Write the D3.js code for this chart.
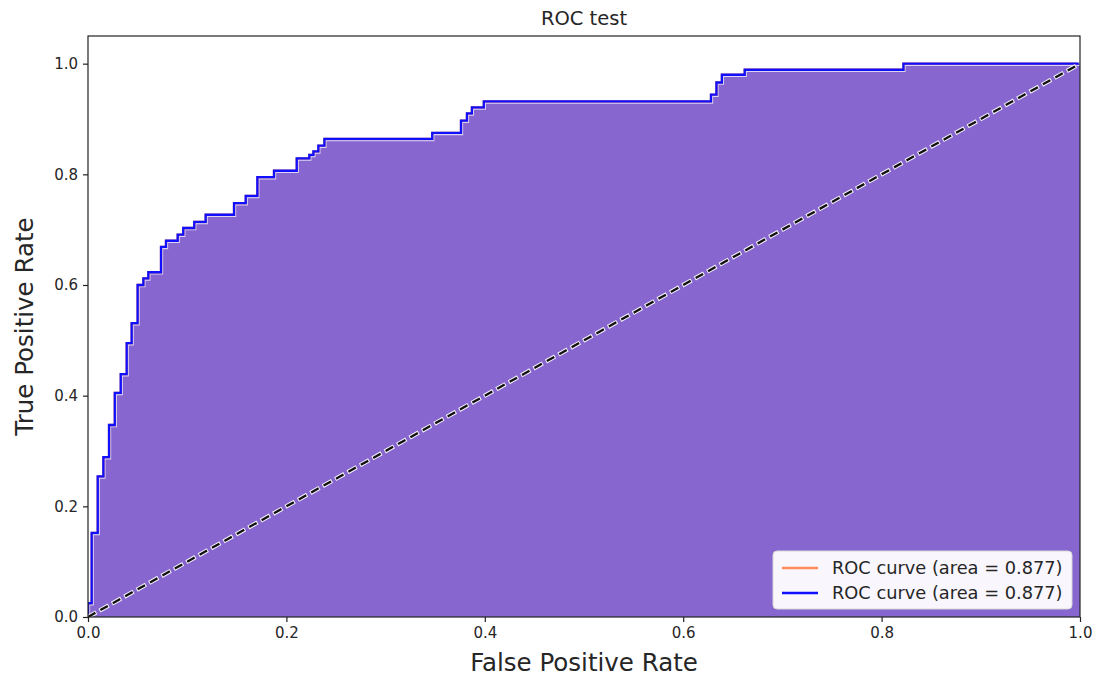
<!DOCTYPE html>
<html>
<head>
<meta charset="utf-8">
<script src="https://cdn.jsdelivr.net/npm/d3@7"></script>
<style>
  html, body { margin: 0; padding: 0; background: #fff; }
  svg { display: block; font-family: "DejaVu Sans", sans-serif; }
</style>
</head>
<body>
<svg id="chart" width="1099" height="682"></svg>
<script>
// ROC curve corner points (false positive rate, true positive rate)
const fpr = [0, 0, 0.0037, 0.0037, 0.0098, 0.0098, 0.0155, 0.0155, 0.0212, 0.0212,
  0.027, 0.027, 0.033, 0.033, 0.039, 0.039, 0.044, 0.044, 0.050, 0.050,
  0.0558, 0.0558, 0.0608, 0.0608, 0.0736, 0.0736, 0.0786, 0.0786, 0.0904, 0.0904,
  0.096, 0.096, 0.1071, 0.1071, 0.1186, 0.1186, 0.1472, 0.1472, 0.159, 0.159,
  0.1707, 0.1707, 0.1875, 0.1875, 0.2104, 0.2104, 0.2231, 0.2231, 0.2272, 0.2272,
  0.2322, 0.2322, 0.2383, 0.2383, 0.347, 0.347, 0.376, 0.376, 0.382, 0.382,
  0.387, 0.387, 0.399, 0.399, 0.628, 0.628, 0.6335, 0.6335, 0.639, 0.639,
  0.662, 0.662, 0.822, 0.822, 1.0];
const tpr = [0, 0.025, 0.025, 0.152, 0.152, 0.254, 0.254, 0.289, 0.289, 0.347,
  0.347, 0.405, 0.405, 0.439, 0.439, 0.495, 0.495, 0.531, 0.531, 0.600,
  0.600, 0.612, 0.612, 0.623, 0.623, 0.669, 0.669, 0.680, 0.680, 0.691,
  0.691, 0.703, 0.703, 0.714, 0.714, 0.727, 0.727, 0.748, 0.748, 0.761,
  0.761, 0.795, 0.795, 0.8065, 0.8065, 0.829, 0.829, 0.835, 0.835, 0.8415,
  0.8415, 0.852, 0.852, 0.864, 0.864, 0.875, 0.875, 0.897, 0.897, 0.910,
  0.910, 0.921, 0.921, 0.932, 0.932, 0.944, 0.944, 0.966, 0.966, 0.980,
  0.980, 0.989, 0.989, 1.0, 1.0];
const chanceLine = [[0, 0], [1, 1]];
const aucValue = 0.877;
const legendLabels = [`ROC curve (area = ${aucValue.toFixed(3)})`, `ROC curve (area = ${aucValue.toFixed(3)})`];
const legendColors = ["#ff8c5e", "#1010ff"];
const xTicks = [0, 0.2, 0.4, 0.6, 0.8, 1.0];
const yTicks = [0, 0.2, 0.4, 0.6, 0.8, 1.0];

const svg = d3.select("#chart");
const margin = { left: 88, right: 1080, top: 36, bottom: 617 };

const x = d3.scaleLinear().domain([0, 1]).range([margin.left, margin.right]);
const y = d3.scaleLinear().domain([0, 1.05]).range([margin.bottom, margin.top]);

const pts = fpr.map((f, i) => [f, tpr[i]]);

// plot clip
svg.append("clipPath").attr("id", "plotClip")
  .append("rect")
  .attr("x", margin.left).attr("y", margin.top)
  .attr("width", margin.right - margin.left).attr("height", margin.bottom - margin.top);

const plot = svg.append("g").attr("clip-path", "url(#plotClip)");

// shaded area under the curve
const area = d3.area().x(d => x(d[0])).y0(y(0)).y1(d => y(d[1]));
plot.append("path").datum(pts)
  .attr("d", area)
  .attr("fill", "#8767cf");

const line = d3.line().x(d => x(d[0])).y(d => y(d[1]));

// thin light edge along the fill boundary
plot.append("path").datum(pts)
  .attr("d", line)
  .attr("fill", "none")
  .attr("stroke", "#ddd4f3")
  .attr("stroke-width", 1.1)
  .attr("transform", "translate(1.6,1.8)");

// ROC curves
plot.append("path").datum(pts)
  .attr("d", line)
  .attr("fill", "none")
  .attr("stroke", legendColors[0])
  .attr("stroke-width", 2.3);
plot.append("path").datum(pts)
  .attr("d", line)
  .attr("fill", "none")
  .attr("stroke", legendColors[1])
  .attr("stroke-width", 2.3);

// chance diagonal: white halo dashes under black dashes
plot.append("path").datum(chanceLine)
  .attr("d", line)
  .attr("fill", "none")
  .attr("stroke", "#f4f0fb")
  .attr("stroke-width", 4.4)
  .attr("stroke-dasharray", "10.5,3.7")
  .attr("stroke-dashoffset", 1);
plot.append("path").datum(chanceLine)
  .attr("d", line)
  .attr("fill", "none")
  .attr("stroke", "#111")
  .attr("stroke-width", 2.3)
  .attr("stroke-dasharray", "8.5,5.7");

// axes
const xAxis = d3.axisBottom(x).tickValues(xTicks).tickFormat(d3.format(".1f"))
  .tickSizeInner(5).tickSizeOuter(0).tickPadding(5);
const yAxis = d3.axisLeft(y).tickValues(yTicks).tickFormat(d3.format(".1f"))
  .tickSizeInner(5).tickSizeOuter(0).tickPadding(5);

const gx = svg.append("g").attr("transform", `translate(0,${margin.bottom})`).call(xAxis);
const gy = svg.append("g").attr("transform", `translate(${margin.left},0)`).call(yAxis);
[gx, gy].forEach(g => {
  g.select(".domain").remove();
  g.selectAll(".tick line").attr("stroke", "#222").attr("stroke-width", 1.2);
  g.selectAll(".tick text").attr("fill", "#262626")
    .style("font-family", "DejaVu Sans, sans-serif").style("font-size", "15px");
});

// frame
svg.append("rect")
  .attr("x", margin.left).attr("y", margin.top)
  .attr("width", margin.right - margin.left).attr("height", margin.bottom - margin.top)
  .attr("fill", "none").attr("stroke", "#222").attr("stroke-width", 1.2);

// title & axis labels
svg.append("text")
  .attr("x", (margin.left + margin.right) / 2).attr("y", 25)
  .attr("text-anchor", "middle")
  .attr("fill", "#262626")
  .style("font-size", "19.5px")
  .text("ROC test");

svg.append("text")
  .attr("x", (margin.left + margin.right) / 2).attr("y", 671)
  .attr("text-anchor", "middle")
  .attr("fill", "#262626")
  .style("font-size", "24.5px")
  .text("False Positive Rate");

svg.append("text")
  .attr("transform", `translate(33,${(margin.top + margin.bottom) / 2}) rotate(-90)`)
  .attr("text-anchor", "middle")
  .attr("fill", "#262626")
  .style("font-size", "24.5px")
  .text("True Positive Rate");

// legend
const legend = svg.append("g").attr("transform", "translate(773,551)");
legend.append("rect")
  .attr("width", 299).attr("height", 58)
  .attr("rx", 4).attr("ry", 4)
  .attr("fill", "#fff").attr("fill-opacity", 0.95)
  .attr("stroke", "#d6d6d6").attr("stroke-width", 1);
legendLabels.forEach((label, i) => {
  const yy = 17 + i * 25;
  legend.append("line")
    .attr("x1", 9).attr("x2", 45).attr("y1", yy).attr("y2", yy)
    .attr("stroke", legendColors[i]).attr("stroke-width", 2.4);
  legend.append("text")
    .attr("x", 59).attr("y", yy + 6)
    .attr("fill", "#262626")
    .style("font-size", "17.8px")
    .text(label);
});
</script>
</body>
</html>
